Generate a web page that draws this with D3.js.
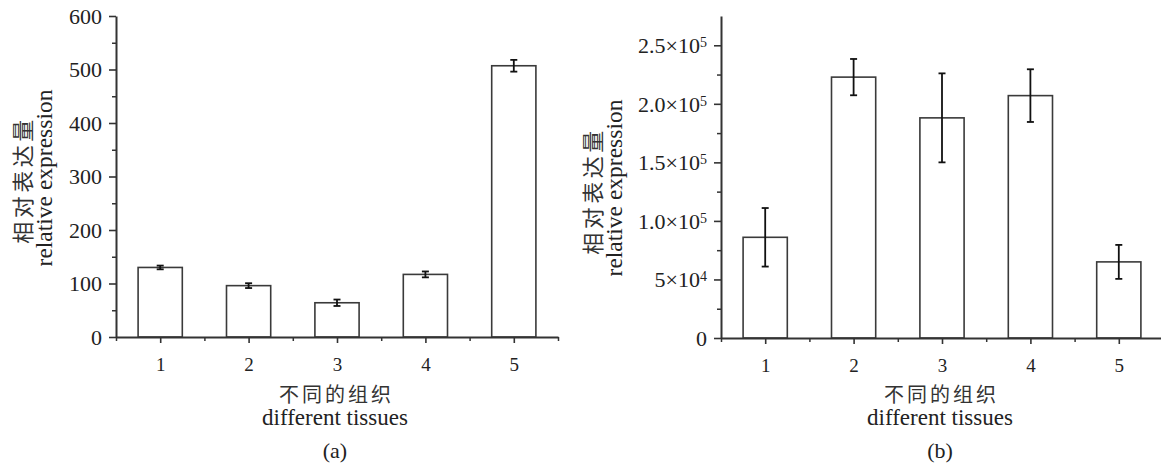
<!DOCTYPE html>
<html>
<head>
<meta charset="utf-8">
<script src="https://cdn.jsdelivr.net/npm/d3@7"></script>
<style>
  html, body { margin: 0; padding: 0; background: #fff; }
  svg { display: block; }
  .lat { font-family: "Liberation Serif", "Times New Roman", serif; fill: #222; }
  .cjk { font-family: "Noto Sans CJK SC", "Noto Sans CJK JP", sans-serif; font-weight: 400; fill: #333; }
</style>
</head>
<body>
<svg id="chart" width="1161" height="469"></svg>
<script>
// ---- data ----
const categories = [1, 2, 3, 4, 5];
const valuesA = [130, 96, 64, 117, 507];
const errorsA = [3.5, 4.5, 6, 5.5, 11];
const valuesB = [86000, 222800, 188000, 207000, 65000];
const errorsB = [25000, 15500, 38000, 22500, 14500];
const yTicksA = [0, 100, 200, 300, 400, 500, 600];
const yMinorA = [50, 150, 250, 350, 450, 550];
const yTicksB = [0, 50000, 100000, 150000, 200000, 250000];
const yMinorB = [25000, 75000, 125000, 175000, 225000];
const yTickMantB = ["0", "5", "1.0", "1.5", "2.0", "2.5"];
const yTickExpB = ["", "4", "5", "5", "5", "5"];
const xMinor = [0.5, 1.5, 2.5, 3.5, 4.5, 5.5];
const yTitleCn = "相对表达量";
const yTitleEn = "relative expression";
const xTitleCn = "不同的组织";
const xTitleEn = "different tissues";
const panelLabels = ["(a)", "(b)"];

const svg = d3.select("#chart");

function panel(opts) {
  const g = svg.append("g");
  const x = d3.scaleLinear().domain([0.5, 5.5]).range([opts.x0, opts.x1]);
  const y = d3.scaleLinear().domain([0, opts.ymax]).range([opts.y0, opts.y1]);
  const bw = x(1.25) - x(0.75);

  // bars
  g.selectAll("rect.bar").data(opts.values).enter().append("rect")
    .attr("x", (d, i) => x(categories[i]) - bw / 2)
    .attr("y", d => y(d))
    .attr("width", bw)
    .attr("height", d => opts.y0 - y(d))
    .attr("fill", "#fff").attr("stroke", "#3a3a3a").attr("stroke-width", 1.6);

  // error bars
  const eg = g.append("g").attr("stroke", "#111").attr("stroke-width", 1.8);
  opts.values.forEach((v, i) => {
    const cx = x(categories[i]);
    const e = opts.errors[i];
    eg.append("line").attr("x1", cx).attr("x2", cx).attr("y1", y(v + e)).attr("y2", y(v - e));
    eg.append("line").attr("x1", cx - 3.5).attr("x2", cx + 3.5).attr("y1", y(v + e)).attr("y2", y(v + e));
    eg.append("line").attr("x1", cx - 3.5).attr("x2", cx + 3.5).attr("y1", y(v - e)).attr("y2", y(v - e));
  });

  // y minor
  g.append("g").attr("transform", `translate(${opts.x0},0)`)
    .call(d3.axisLeft(y).tickValues(opts.yMinor).tickSize(4).tickFormat("").tickSizeOuter(0))
    .call(s => s.select(".domain").remove())
    .call(s => s.selectAll("line").attr("stroke", "#333").attr("stroke-width", 1.5));
  // y major
  const ya = g.append("g").attr("transform", `translate(${opts.x0},0)`)
    .call(d3.axisLeft(y).tickValues(opts.yTicks).tickSize(7).tickPadding(7).tickSizeOuter(0)
      .tickFormat(d3.format("d")))
    .call(s => s.select(".domain").attr("stroke", "#333").attr("stroke-width", 2))
    .call(s => s.selectAll("line").attr("stroke", "#333").attr("stroke-width", 1.6));
  ya.selectAll("text").attr("class", "lat").style("font-size", "22px").attr("dy", "0.34em");
  if (opts.yFormatSup) {
    ya.selectAll(".tick text").each(function (d, i) {
      const t = d3.select(this);
      t.text(null);
      t.append("tspan").text(yTickMantB[i] + (yTickExpB[i] ? "×10" : ""));
      if (yTickExpB[i]) t.append("tspan").attr("dy", "-0.45em").style("font-size", "14px").text(yTickExpB[i]);
    });
  }

  // x minor
  g.append("g").attr("transform", `translate(0,${opts.y0})`)
    .call(d3.axisBottom(x).tickValues(xMinor).tickSize(4).tickFormat("").tickSizeOuter(0))
    .call(s => s.select(".domain").remove())
    .call(s => s.selectAll("line").attr("stroke", "#333").attr("stroke-width", 1.5));
  // x major
  const xa = g.append("g").attr("transform", `translate(0,${opts.y0})`)
    .call(d3.axisBottom(x).tickValues(categories).tickSize(6).tickPadding(14.5).tickSizeOuter(0)
      .tickFormat(d3.format("d")))
    .call(s => s.select(".domain").attr("stroke", "#333").attr("stroke-width", 2))
    .call(s => s.selectAll("line").attr("stroke", "#333").attr("stroke-width", 1.6));
  xa.selectAll("text").attr("class", "lat").style("font-size", "19px");

  // y titles
  g.append("text").attr("class", "cjk")
    .attr("transform", `translate(${opts.cnX},${opts.cnY}) rotate(-90)`)
    .attr("text-anchor", "middle").attr("dominant-baseline", "central")
    .style("font-size", "22px").style("letter-spacing", "3.5px").text(yTitleCn);
  g.append("text").attr("class", "lat")
    .attr("transform", `translate(${opts.enX},${opts.enY}) rotate(-90)`)
    .attr("text-anchor", "middle")
    .style("font-size", "23.5px").text(yTitleEn);

  // x titles
  const cx = (opts.x0 + opts.x1) / 2 - 2;
  g.append("text").attr("class", "cjk").attr("x", cx + 1.5).attr("y", 393)
    .attr("text-anchor", "middle").attr("dominant-baseline", "central")
    .style("font-size", "20px").style("letter-spacing", "3px").text(xTitleCn);
  g.append("text").attr("class", "lat").attr("x", cx).attr("y", 425)
    .attr("text-anchor", "middle").style("font-size", "23px").text(xTitleEn);
  g.append("text").attr("class", "lat").attr("x", cx).attr("y", 458)
    .attr("text-anchor", "middle").style("font-size", "22px").text(opts.label);
}

panel({
  x0: 116, x1: 558, y0: 337, y1: 16, ymax: 600,
  values: valuesA, errors: errorsA, yTicks: yTicksA, yMinor: yMinorA,
  cnX: 21, cnY: 180, enX: 52, enY: 178, label: panelLabels[0]
});
panel({
  x0: 721, x1: 1163, y0: 338, y1: 16, ymax: 275000,
  values: valuesB, errors: errorsB, yTicks: yTicksB, yMinor: yMinorB, yFormatSup: true,
  cnX: 591, cnY: 191, enX: 622, enY: 188, label: panelLabels[1]
});
</script>
</body>
</html>
